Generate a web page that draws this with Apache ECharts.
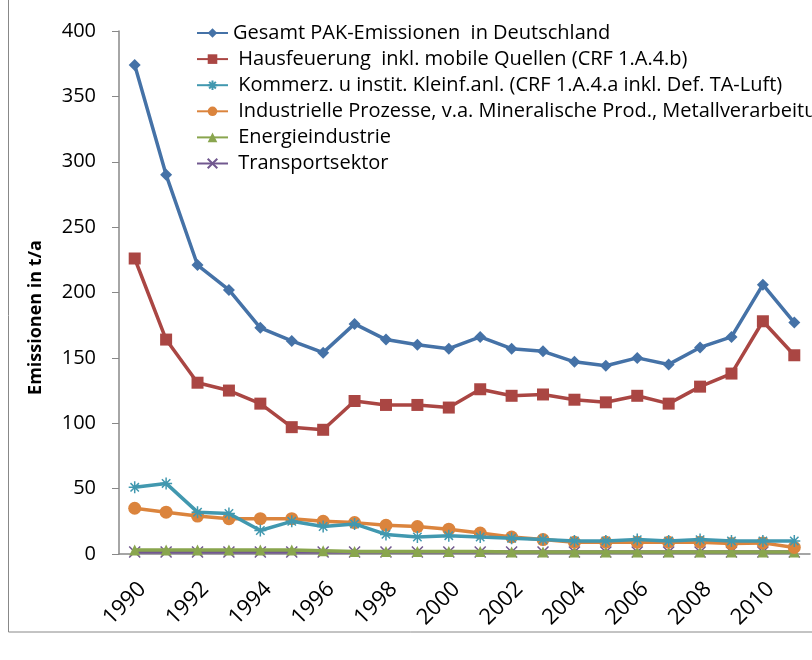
<!DOCTYPE html>
<html><head><meta charset="utf-8">
<script src="https://cdn.jsdelivr.net/npm/echarts@6/dist/echarts.min.js"></script>
<style>html,body{margin:0;padding:0;background:#fff}#c{width:812px;height:660px}</style>
</head><body><div id="c"></div>
<script>
const years = ['1990','1991','1992','1993','1994','1995','1996','1997','1998','1999','2000','2001','2002','2003','2004','2005','2006','2007','2008','2009','2010','2011'];
const gesamt = [374,290,221,202,173,163,154,176,164,160,157,166,157,155,147,144,150,145,158,166,206,177];
const hausfeuerung = [226,164,131,125,115,97,95,117,114,114,112,126,121,122,118,116,121,115,128,138,178,152];
const kommerz = [51,54,32,31,18,25,21,23,15,13,14,13,12,11,10,10,11,10,11,10,10,10];
const industrie = [35,32,29,27,27,27,25,24,22,21,19,16,13,11,9,9,9,9,9,8,8.5,5];
const energie = [3,3,3,3,3,3,2.5,2,2,2,2,2,1.5,1.5,1.5,1.5,1.5,1.5,1.5,1.5,1.5,1.5];
const transport = [1.5,1.5,1.5,1.5,1.5,1.5,1.5,1.5,1.5,1.5,1.5,1.5,1.5,1.5,1.5,1.5,1.5,1.5,1.5,1.5,1.5,1.5];
const names = ['Gesamt PAK-Emissionen  in Deutschland',' Hausfeuerung  inkl. mobile Quellen (CRF 1.A.4.b)',' Kommerz. u instit. Kleinf.anl. (CRF 1.A.4.a inkl. Def. TA-Luft)',' Industrielle Prozesse, v.a. Mineralische Prod., Metallverarbeitung',' Energieindustrie',' Transportsektor'];
const yTicks = [0,400,50];

const colors = ['#4572A7','#AA4643','#4198AF','#DB843D','#89A54E','#71588F'];
const asterisk = 'path://M10,0L10,20M0,10L20,10M3,3L17,17M3,17L17,3';
const cross = 'path://M2,2L18,18M2,18L18,2';
const symbols = ['diamond','rect',asterisk,'circle','triangle',cross];
const sizes = [12,12,12,13,11,11];
const datas = [gesamt,hausfeuerung,kommerz,industrie,energie,transport];

const series = datas.map((d,i)=>({
  name:names[i], type:'line', data:d, symbol:symbols[i], symbolSize:sizes[i],
  lineStyle:{width:3.5,color:colors[i]},
  itemStyle:{color:(i===2||i===5)?'none':colors[i], borderColor:colors[i], borderWidth:(i===2||i===5)?1.5:0},
  z: 10-i
}));

const chart = echarts.init(document.getElementById('c'));
chart.setOption({
  animation:false,
  color:colors,
  graphic:[{type:'rect',shape:{x:8.5,y:-2,width:820,height:634},style:{fill:'none',stroke:'#888',lineWidth:1},silent:true}],
  legend:{
    left:191, top:18, orient:'vertical', itemGap:6.1, itemWidth:31, itemHeight:12,
    textStyle:{fontFamily:'Open Sans',fontSize:20,lineHeight:20,color:'#000'},
    data:names
  },
  grid:{left:119,top:31,right:2,bottom:106,containLabel:false},
  xAxis:{
    type:'category', data:years, boundaryGap:true,
    axisLine:{lineStyle:{color:'#888',width:1.5}},
    axisTick:{interval:1,length:8,lineStyle:{color:'#888'}},
    axisLabel:{interval:1,rotate:45,fontSize:22,color:'#000',fontFamily:'Open Sans',margin:24,align:'right',verticalAlign:'top'}
  },
  yAxis:{
    type:'value', min:yTicks[0], max:yTicks[1], interval:yTicks[2],
    name:'Emissionen in t/a', nameLocation:'middle', nameGap:74,
    nameTextStyle:{fontSize:18,fontWeight:'bold',fontFamily:'Open Sans',color:'#000',padding:[0,50,0,0]},
    axisLine:{show:true,lineStyle:{color:'#888',width:1.5}},
    axisTick:{show:true,length:7,lineStyle:{color:'#888'}},
    splitLine:{show:false},
    axisLabel:{fontSize:20,color:'#000',fontFamily:'Open Sans',margin:23}
  },
  series:series
});
</script></body></html>
